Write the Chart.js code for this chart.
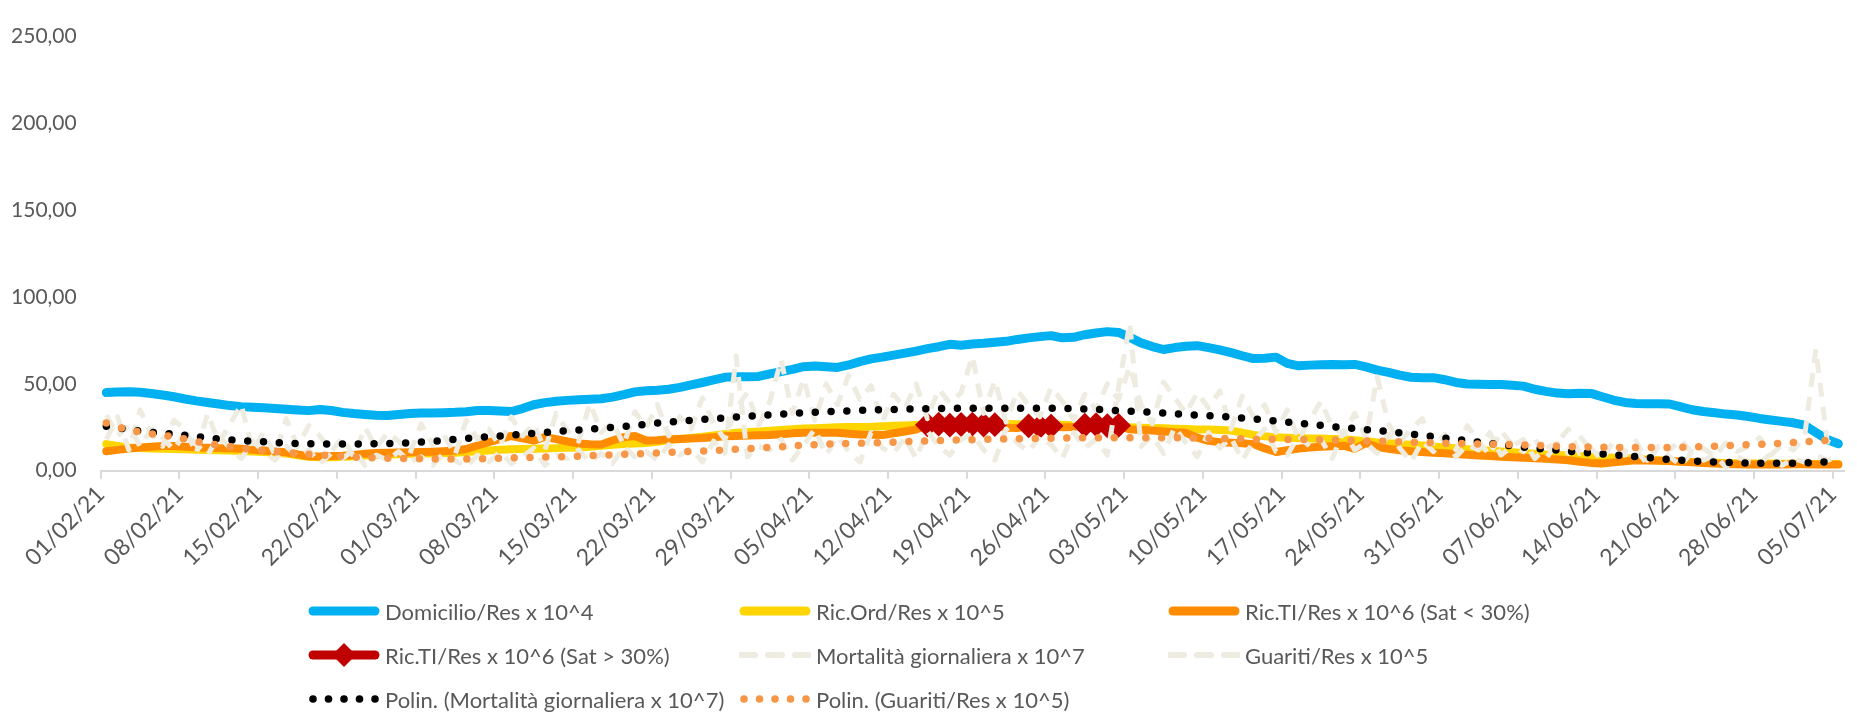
<!DOCTYPE html>
<html lang="it">
<head>
<meta charset="utf-8">
<title>Andamento indicatori COVID-19</title>
<script src="https://cdn.jsdelivr.net/npm/chart.js@4.4.1/dist/chart.umd.min.js"></script>
<style>
  html, body { margin: 0; padding: 0; background: #ffffff; }
  #wrap { position: relative; width: 1857px; height: 713px; overflow: hidden; }
  #chart { position: absolute; left: 0; top: 0; }
  #legend {
    position: absolute; left: 308px; top: 589px;
    display: grid; grid-template-columns: 431px 429px 430px; grid-auto-rows: 44px;
    font-family: Lato, "Liberation Sans", sans-serif; font-size: 22px; color: #595959;
  }
  #legend .item { display: flex; align-items: center; white-space: nowrap; }
  #legend svg { flex: none; margin-right: 5px; }
</style>
</head>
<body>
<div id="wrap">
  <canvas id="chart" width="1857" height="713"></canvas>
  <div id="legend"></div>
</div>
<script>
// Days from 01/02/21 to 05/07/21, one category per day
const monthDays = [['02', 28], ['03', 31], ['04', 30], ['05', 31], ['06', 30], ['07', 5]];
const dates = monthDays.flatMap(([m, n]) =>
  Array.from({ length: n }, (_, i) => String(i + 1).padStart(2, '0') + '/' + m + '/21'));

const yTicks = [0, 50, 100, 150, 200, 250];

// Domicilio/Res x 10^4
const homeValues = [
  45.0, 45.3, 45.5, 45.2, 44.5, 43.6, 42.6,
  41.3, 40.2, 39.3, 38.4, 37.5, 36.9, 36.5,
  36.2, 35.8, 35.4, 35.0, 34.6, 35.2, 34.7,
  33.6, 32.9, 32.4, 31.9, 31.8, 32.4, 33.0,
  33.2, 33.3, 33.4, 33.6, 34.0, 34.7, 34.6,
  34.4, 34.1, 35.8, 38.0, 39.2, 40.0, 40.5,
  40.8, 41.1, 41.4, 42.4, 43.8, 45.4, 46.1,
  46.3, 46.9, 48.0, 49.4, 50.8, 52.3, 53.8,
  54.1, 54.1, 54.3, 55.8, 57.1, 58.4, 59.9,
  60.3, 59.9, 59.5, 60.9, 62.8, 64.4, 65.4,
  66.6, 67.7, 68.9, 70.3, 71.4, 72.8, 72.3,
  73.0, 73.4, 74.0, 74.5, 75.6, 76.5, 77.2,
  77.8, 76.5, 76.8, 78.3, 79.3, 80.1, 79.6,
  76.8, 73.6, 71.5, 69.8, 70.9, 71.7, 72.0,
  70.9, 69.6, 68.0, 66.2, 64.6, 64.8, 65.4,
  61.8, 60.4, 60.8, 61.0, 61.1, 61.0, 61.2,
  59.8, 57.9, 56.6, 55.0, 53.8, 53.5, 53.6,
  52.4, 50.8, 49.9, 49.8, 49.7, 49.6, 49.2,
  48.7, 46.9, 45.7, 44.7, 44.3, 44.6, 44.5,
  42.6, 40.7, 39.3, 38.7, 38.5, 38.6, 38.4,
  36.7, 35.1, 34.1, 33.4, 32.6, 32.1, 31.2,
  30.1, 29.2, 28.4, 27.6, 26.2, 22.0, 18.0,
  15.5
];

// Ric.Ord/Res x 10^5
const wardValues = [
  15.3, 14.3, 13.4, 13.0, 12.8, 12.6, 12.5,
  12.3, 12.1, 11.9, 11.8, 11.6, 11.4, 11.1,
  10.8, 10.4, 9.9, 8.9, 8.0, 7.8, 7.8,
  7.9, 8.3, 8.7, 9.0, 9.3, 9.5, 9.7,
  9.8, 10.0, 10.2, 10.4, 10.8, 11.2, 11.6,
  12.0, 12.3, 12.5, 12.6, 12.8, 13.0, 13.2,
  13.4, 13.8, 14.3, 14.9, 15.4, 15.7, 16.0,
  16.6, 17.6, 18.3, 18.9, 19.5, 20.3, 21.1,
  21.8, 22.2, 22.6, 23.0, 23.4, 23.9, 24.3,
  24.5, 24.8, 25.0, 25.1, 25.2, 25.3, 25.6,
  25.9, 26.1, 26.3, 26.5, 26.6, 26.7, 26.8,
  26.9, 27.0, 27.0, 26.9, 26.8, 26.7, 26.6,
  26.5, 26.4, 26.2, 26.0, 25.8, 25.5, 25.2,
  25.0, 24.8, 24.6, 24.4, 24.2, 24.0, 23.8,
  23.7, 23.4, 23.1, 21.9, 20.6, 19.8, 19.2,
  19.0, 18.8, 18.6, 18.5, 18.3, 18.1, 17.6,
  17.0, 16.2, 15.8, 15.4, 15.0, 14.5, 14.0,
  13.4, 12.9, 12.4, 11.9, 11.5, 11.0, 10.6,
  10.2, 9.8, 9.3, 9.0, 8.8, 8.4, 8.1,
  7.8, 7.5, 7.2, 6.9, 6.5, 6.0, 5.6,
  5.3, 5.0, 4.8, 4.6, 4.5, 4.3, 4.2,
  4.1, 4.1, 4.0, 4.0, 4.0, 3.9, 3.9,
  3.8
];

// Ric.TI/Res x 10^6
const icuValues = [
  11.2, 12.0, 12.8, 13.3, 13.8, 14.2, 14.2,
  13.8, 13.4, 13.2, 13.0, 12.9, 12.6, 12.1,
  11.6, 11.1, 10.6, 9.4, 8.3, 8.2, 8.4,
  8.6, 9.1, 9.7, 10.2, 10.4, 10.5, 10.6,
  10.7, 10.9, 11.2, 11.6, 12.5, 14.5, 16.4,
  18.2, 20.0, 18.6, 17.3, 19.4, 18.2, 16.8,
  15.7, 15.3, 15.1, 17.4, 19.3, 20.0, 17.4,
  17.6, 18.1, 18.3, 18.6, 18.8, 19.3, 19.9,
  20.0, 20.2, 20.4, 20.5, 21.0, 21.5, 21.8,
  21.9, 21.8, 21.8, 21.3, 20.9, 20.7, 20.5,
  21.6, 22.6, 23.7, 26.4, 26.8, 26.2, 26.6,
  26.8, 26.3, 26.5, 24.8, 24.6, 25.8, 25.4,
  25.7, 25.0, 25.2, 26.2, 26.5, 25.9, 26.1,
  23.8, 23.4, 23.1, 22.6, 22.1, 21.8, 19.0,
  17.2, 16.4, 16.1, 15.8, 15.3, 12.8, 10.8,
  11.8, 12.7, 13.4, 13.8, 14.1, 14.4, 12.6,
  16.0, 13.6, 12.6, 11.8, 11.2, 10.8, 10.4,
  10.1, 9.6, 9.2, 8.8, 8.5, 8.1, 7.8,
  7.5, 7.2, 6.9, 6.5, 6.0, 5.2, 4.5,
  4.1, 4.8, 5.5, 6.0, 5.9, 5.7, 5.6,
  5.2, 4.8, 4.5, 4.2, 3.9, 3.7, 3.6,
  3.5, 3.5, 3.6, 3.7, 3.7, 3.6, 3.5,
  3.5
];

// Days (index from 01/02/21) with ICU saturation above 30%
const satHighDays = [73, 74, 75, 76, 77, 78, 79, 82, 83, 84, 87, 88, 89, 90];

// Mortalità giornaliera x 10^7
const deathValues = [
  18, 31, 12, 35, 21, 14, 29,
  24, 10, 33, 16, 27, 38, 12,
  22, 9, 30, 14, 26, 20, 11,
  19, 8, 25, 13, 22, 17, 10,
  27, 15, 21, 9, 29, 18, 24,
  14, 31, 20, 27, 12, 33, 23,
  17, 39, 22, 28, 15, 34, 25,
  38, 20, 31, 24, 42, 27, 18,
  36, 45, 26, 40, 64, 33, 53,
  29, 50, 38, 55, 41, 49, 28,
  44, 36, 50, 30, 47, 39, 45,
  66, 33, 52, 28, 46, 38, 31,
  48, 40, 29, 44, 35, 50, 41,
  60, 38, 27, 51, 42, 33, 45,
  36, 46, 24, 43, 31, 38, 22,
  35, 18, 29, 40, 25, 21, 33,
  19, 54, 27, 16, 24, 30, 14,
  21, 12, 26, 17, 9, 23, 15,
  11, 19, 7, 16, 24, 10, 13,
  6, 17, 9, 12, 4, 14, 8,
  3, 11, 6, 9, 2, 8, 5,
  4, 10, 3, 7, 5, 9, 6,
  8
];

// Guariti/Res x 10^5
const recoveredValues = [
  32, 20, 26, 14, 24, 19, 12,
  22, 15, 9, 20, 13, 7, 17,
  11, 6, 14, 8, 12, 4, 10,
  7, 12, 3, 9, 6, 11, 5,
  8, 3, 10, 6, 2, 9, 5,
  11, 4, 8, 13, 3, 9, 7,
  12, 5, 10, 4, 14, 8, 11,
  6, 15, 9, 13, 5, 17, 10,
  66, 8, 14, 12, 18, 6, 15,
  24, 9, 20, 11, 5, 22, 13,
  10, 19, 7, 23, 14, 9, 18,
  21, 12, 6, 24, 16, 11, 20,
  15, 7, 22, 13, 18, 9, 48,
  85, 14, 20, 10, 25, 16, 8,
  22, 13, 19, 6, 17, 24, 11,
  9, 20, 14, 18, 7, 23, 12,
  16, 10, 21, 13, 5, 17, 11,
  19, 8, 15, 12, 22, 9, 14,
  18, 7, 13, 16, 10, 20, 12,
  9, 15, 11, 17, 6, 14, 12,
  18, 10, 13, 8, 16, 11, 14,
  19, 9, 15, 12, 20, 70, 17,
  14
];

// Polynomial trend of daily mortality, sampled along the curve
const deathTrendDays = [0, 3, 7, 10, 13, 16, 20, 24, 28, 32, 37, 42, 46, 50, 55, 59, 63, 67, 72, 77,
  82, 87, 91, 96, 100, 105, 110, 114, 118, 122, 126, 131, 136, 140, 144, 148, 151, 154];
const deathTrendValues = [25.6, 22.8, 20.4, 18.3, 17.0, 15.9, 15.4, 15.5, 16.5, 18.6, 21.0, 23.5, 25.5, 28.0, 30.4, 32.2, 33.6, 34.7, 35.6, 36.0,
  36.0, 35.5, 34.3, 32.4, 30.8, 28.0, 24.8, 22.5, 19.6, 16.5, 13.6, 10.7, 8.1, 6.0, 4.8, 4.3, 4.5, 5.6];

// Polynomial trend of recoveries, sampled along the curve
const recTrendDays = [0, 2, 4, 6, 8, 10, 12, 14, 17, 20, 23, 27, 31, 36, 42, 47, 51, 55, 59, 63,
  68, 72, 76, 82, 88, 93, 99, 103, 109, 114, 120, 126, 130, 134, 139, 145, 150, 154];
const recTrendValues = [27.4, 23.5, 21.3, 19.5, 16.8, 14.8, 13.0, 11.6, 10.0, 8.6, 7.6, 6.9, 6.7, 7.4, 8.4, 9.7, 10.8, 12.0, 13.4, 15.0,
  16.0, 16.9, 17.7, 18.5, 19.0, 19.0, 18.6, 18.1, 17.7, 16.8, 15.7, 14.8, 13.9, 13.4, 13.4, 14.7, 16.2, 17.9];

const seriesNames = [
  'Domicilio/Res x 10^4',
  'Ric.Ord/Res x 10^5',
  'Ric.TI/Res x 10^6 (Sat < 30%)',
  'Ric.TI/Res x 10^6 (Sat > 30%)',
  'Mortalità giornaliera x 10^7',
  'Guariti/Res x 10^5',
  'Polin. (Mortalità giornaliera x 10^7)',
  'Polin. (Guariti/Res x 10^5)'
];

const COLORS = {
  home: '#00B0F0', ward: '#FFD500', icu: '#FF8C00', icuHigh: '#C00000',
  light: '#EEECE1', black: '#000000', recTrend: '#F79646',
  text: '#595959', axis: '#D9D9D9'
};

// Sparse series helper: value on listed days, gaps elsewhere
function sparse(days, values) {
  const out = dates.map(() => null);
  days.forEach((d, i) => { out[d] = values[i]; });
  return out;
}
const icuHighValues = sparse(satHighDays, satHighDays.map(d => icuValues[d]));

const solid = (color) => ({
  borderColor: color, backgroundColor: color, borderWidth: 9,
  borderCapStyle: 'round', borderJoinStyle: 'round', pointRadius: 0, fill: false
});

const dashed = (color) => ({
  borderColor: color, borderWidth: 5, borderDash: [14, 10],
  borderCapStyle: 'butt', borderJoinStyle: 'round', pointRadius: 0, fill: false
});

const dotted = (color) => ({
  borderColor: color, borderWidth: 7.5, borderDash: [0, 15.8],
  borderCapStyle: 'round', borderJoinStyle: 'round', pointRadius: 0, fill: false,
  spanGaps: true, cubicInterpolationMode: 'monotone'
});

const datasets = [
  Object.assign({ label: seriesNames[0], data: homeValues, order: 8 }, solid(COLORS.home)),
  Object.assign({ label: seriesNames[1], data: wardValues, order: 7 }, solid(COLORS.ward), { borderWidth: 8 }),
  Object.assign({ label: seriesNames[2], data: icuValues, order: 6 }, solid(COLORS.icu), { borderWidth: 8 }),
  Object.assign({ label: seriesNames[3], data: icuHighValues, order: 5 }, solid(COLORS.icuHigh), {
    borderWidth: 8, pointStyle: 'rectRot', pointRadius: 11, pointBorderWidth: 2,
    pointBackgroundColor: COLORS.icuHigh, pointBorderColor: COLORS.icuHigh, spanGaps: false
  }),
  Object.assign({ label: seriesNames[4], data: deathValues, order: 4 }, dashed(COLORS.light)),
  Object.assign({ label: seriesNames[5], data: recoveredValues, order: 3 }, dashed(COLORS.light)),
  Object.assign({ label: seriesNames[6], data: sparse(deathTrendDays, deathTrendValues), order: 2 }, dotted(COLORS.black)),
  Object.assign({ label: seriesNames[7], data: sparse(recTrendDays, recTrendValues), order: 1 }, dotted(COLORS.recTrend))
];

const FONT = 'Lato, "Liberation Sans", sans-serif';

new Chart(document.getElementById('chart'), {
  type: 'line',
  data: { labels: dates, datasets },
  options: {
    responsive: false,
    animation: false,
    events: [],
    layout: { padding: { top: 20, right: 3, bottom: 0, left: 0 } },
    plugins: { legend: { display: false }, tooltip: { enabled: false } },
    scales: {
      x: {
        type: 'category',
        offset: true,
        grid: {
          offset: true, drawOnChartArea: false, drawTicks: true, tickLength: 8, lineWidth: 2,
          color: (ctx) => (ctx.index !== undefined && ctx.index % 7 === 0 ? COLORS.axis : 'rgba(0,0,0,0)')
        },
        border: { display: true, color: COLORS.axis, width: 2 },
        ticks: {
          autoSkip: false, minRotation: 45, maxRotation: 45, padding: 2, labelOffset: -5.65,
          color: COLORS.text, font: { family: FONT, size: 23 },
          callback: function (value, index) { return index % 7 === 0 ? this.getLabelForValue(value) : ''; }
        },
        afterFit: (scale) => { scale.height = 242.3; scale.paddingLeft = 0; scale.paddingRight = 0; }
      },
      y: {
        min: yTicks[0], max: yTicks[yTicks.length - 1],
        afterBuildTicks: (scale) => { scale.ticks = yTicks.map(v => ({ value: v })); },
        grid: { display: false, drawTicks: false },
        border: { display: false },
        ticks: {
          padding: 24, color: COLORS.text, font: { family: FONT, size: 21 },
          callback: (v) => Number(v).toFixed(2).replace('.', ',')
        },
        afterFit: (scale) => { scale.width = 100.7; }
      }
    }
  }
});

// Legend: three columns, row by row
const swatches = [
  { type: 'line', color: COLORS.home },
  { type: 'line', color: COLORS.ward },
  { type: 'line', color: COLORS.icu },
  { type: 'diamond', color: COLORS.icuHigh },
  { type: 'dash', color: COLORS.light },
  { type: 'dash', color: COLORS.light },
  { type: 'dots', color: COLORS.black },
  { type: 'dots', color: COLORS.recTrend }
];

function swatchSvg(s) {
  const w = 72, h = 26, cy = 13;
  let body = '';
  if (s.type === 'line' || s.type === 'diamond') {
    body += `<line x1="5" y1="${cy}" x2="67" y2="${cy}" stroke="${s.color}" stroke-width="9" stroke-linecap="round"/>`;
    if (s.type === 'diamond') {
      body += `<polygon points="36,1 48,${cy} 36,25 24,${cy}" fill="${s.color}"/>`;
    }
  } else if (s.type === 'dash') {
    body += `<line x1="2" y1="${cy}" x2="70" y2="${cy}" stroke="${s.color}" stroke-width="6" stroke-dasharray="14 13" stroke-linecap="round"/>`;
  } else {
    for (let i = 0; i < 5; i++) body += `<circle cx="${5 + i * 15.5}" cy="${cy}" r="3.8" fill="${s.color}"/>`;
  }
  return `<svg width="${w}" height="${h}" viewBox="0 0 ${w} ${h}">${body}</svg>`;
}

const legendEl = document.getElementById('legend');
seriesNames.forEach((name, i) => {
  const item = document.createElement('div');
  item.className = 'item';
  item.innerHTML = swatchSvg(swatches[i]);
  const span = document.createElement('span');
  span.textContent = name;
  item.appendChild(span);
  legendEl.appendChild(item);
});
</script>
</body>
</html>
